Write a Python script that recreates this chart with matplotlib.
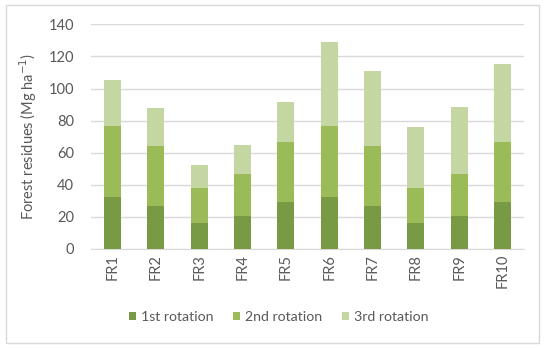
import matplotlib
matplotlib.use("Agg")
import matplotlib.pyplot as plt
from matplotlib.patches import Rectangle
import numpy as np

plt.rcParams['font.family'] = ['Lato', 'DejaVu Sans']

categories = ["FR1", "FR2", "FR3", "FR4", "FR5", "FR6", "FR7", "FR8", "FR9", "FR10"]
rot1 = [32.2, 26.8, 16.2, 20.8, 29.1, 32.2, 26.8, 16.2, 20.8, 29.1]
rot2 = [44.4, 37.2, 21.8, 25.9, 37.4, 44.4, 37.2, 21.8, 25.9, 37.4]
rot3 = [28.7, 23.6, 14.5, 18.3, 25.3, 52.2, 47.1, 38.0, 41.8, 48.8]
series_names = ["1st rotation", "2nd rotation", "3rd rotation"]
colors = ["#789A45", "#9BBB59", "#C4D7A2"]

fig = plt.figure(figsize=(5.5, 3.48), dpi=100)
fig.patches.append(Rectangle((6/550, 5/348), 533/550, 338/348, transform=fig.transFigure,
                             fill=False, edgecolor="#D9D9D9", linewidth=1.0))
ax = fig.add_axes([90.8/550, 1-249/348, (524.2-90.8)/550, (249-24.3)/348])

x = np.arange(len(categories))
w = 0.39
b1 = np.array(rot1)
b2 = b1 + np.array(rot2)
ax.bar(x, rot1, w, color=colors[0], label=series_names[0], zorder=3)
ax.bar(x, rot2, w, bottom=b1, color=colors[1], label=series_names[1], zorder=3)
ax.bar(x, rot3, w, bottom=b2, color=colors[2], label=series_names[2], zorder=3)

ax.set_xlim(-0.5, len(categories)-0.5)
ax.set_ylim(0, 140)
ax.set_yticks(range(0, 141, 20))
ax.yaxis.grid(True, color="#D9D9D9", linewidth=1.0, zorder=0)
ax.set_axisbelow(True)
for s in ["top", "right", "left"]:
    ax.spines[s].set_visible(False)
ax.spines["bottom"].set_color("#D9D9D9")
ax.tick_params(axis="both", length=0, colors="#595959", labelsize=10.5)
ax.tick_params(axis="y", pad=12)
ax.set_xticks(x)
ax.set_xticklabels(categories, rotation=90)
ax.set_ylabel("Forest residues (Mg ha$^{-1}$)", color="#595959", fontsize=10.5, labelpad=7)

leg = fig.legend(loc="center", bbox_to_anchor=(278.5/550, 1-317/348), ncol=3, frameon=False,
                 fontsize=10.2, handlelength=0.5, handleheight=0.5, handletextpad=0.35,
                 columnspacing=1.4, borderpad=0)
for t in leg.get_texts():
    t.set_color("#595959")

fig.savefig("out.png", dpi=100)
